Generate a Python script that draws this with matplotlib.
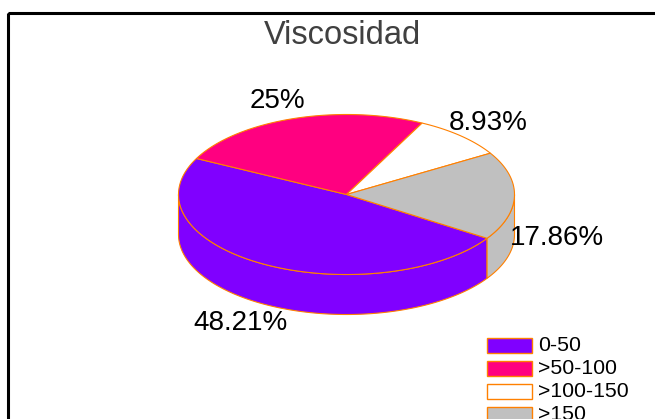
import numpy as np
import matplotlib
matplotlib.use("Agg")
import matplotlib.pyplot as plt
from matplotlib.patches import Polygon, Rectangle

plt.rcParams['font.family'] = ['Liberation Sans', 'DejaVu Sans']

title = "Viscosidad"
categories = ["0-50", ">50-100", ">100-150", ">150"]
values = [48.21, 25.0, 8.93, 17.86]
labels = ["48.21%", "25%", "8.93%", "17.86%"]
colors = ["#8000FF", "#FF0080", "#FFFFFF", "#C0C0C0"]
edge = "#FF8000"

W, H = 655, 419
fig = plt.figure(figsize=(W / 100, H / 100), dpi=100)
ax = fig.add_axes([0, 0, 1, 1])
ax.set_xlim(0, W)
ax.set_ylim(H, 0)
ax.axis('off')

# frame
ax.add_patch(Rectangle((8, 13), 700, 500, fill=False, edgecolor='black', lw=2.2, zorder=0))
ax.text(342, 35, title, ha='center', va='center', fontsize=23.5, color='#404040')

cx, cy, a, b, depth = 346.5, 194.5, 168, 80, 40
start = -33.2


def pt(t, dz=0.0):
    r = np.radians(t)
    return cx + a * np.cos(r), cy - b * np.sin(r) + dz


def arc(t0, t1, dz=0.0, n=None):
    if n is None:
        n = max(int(abs(t1 - t0)) + 2, 3)
    ts = np.linspace(t0, t1, n)
    return [pt(t, dz) for t in ts]


total = sum(values)
spans = [v / total * 360 for v in values]
ranges = []
cur = start
for s in spans:
    ranges.append((cur - s, cur))  # clockwise from cur
    cur -= s

# side walls
for (lo, hi), col in zip(ranges, colors):
    for k in range(-2, 3):
        flo, fhi = -180 + 360 * k, 360 * k
        l, h = max(lo, flo), min(hi, fhi)
        if h > l:
            top = arc(l, h)
            bot = arc(h, l, depth)
            ax.add_patch(Polygon(top + bot, closed=True, facecolor=col,
                                 edgecolor=edge, lw=0.8, zorder=2))

# top faces
for (lo, hi), col in zip(ranges, colors):
    poly = [(cx, cy)] + arc(hi, lo)
    ax.add_patch(Polygon(poly, closed=True, facecolor=col, edgecolor=edge,
                         lw=0.8, zorder=3))

# data labels
label_pos = [(240, 323), (277, 101), (488, 123), (557, 238)]
for (x, y), lab in zip(label_pos, labels):
    ax.text(x, y, lab, ha='center', va='center', fontsize=20, color='black', zorder=5)

# legend
ly0, dy = 345, 23
for i, (cat, col) in enumerate(zip(categories, colors)):
    y = ly0 + i * dy
    ax.add_patch(Rectangle((487, y - 7.5), 45, 15, facecolor=col, edgecolor=edge,
                           lw=1.0, zorder=5))
    ax.text(538, y, cat, ha='left', va='center', fontsize=15.3, color='black', zorder=5)

fig.savefig("out.png", dpi=100)
